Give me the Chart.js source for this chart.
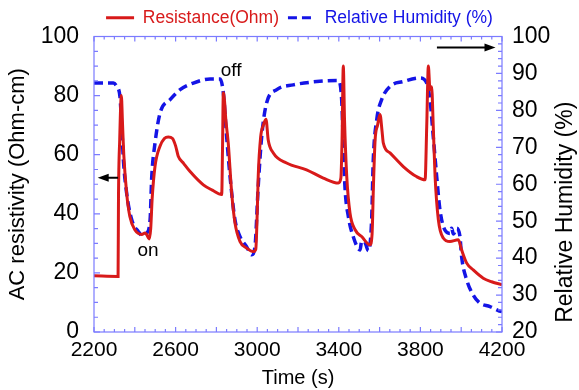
<!DOCTYPE html>
<html>
<head>
<meta charset="utf-8">
<script src="https://cdn.jsdelivr.net/npm/chart.js@4/dist/chart.umd.min.js"></script>
<style>
  html, body { margin: 0; padding: 0; background: #fff; }
  #wrap { width: 579px; height: 390px; }
</style>
</head>
<body>
<div id="wrap"><canvas id="c" width="579" height="390"></canvas></div>
<script>
// ---- data ----
const seriesNames = ["Resistance(Ohm)", "Relative Humidity (%)"];

const resTime = [2200, 2318, 2320, 2326, 2334, 2340, 2346, 2360, 2376, 2401, 2434, 2450, 2458, 2470, 2478, 2485, 2499, 2523, 2545, 2564, 2585, 2600, 2613, 2640, 2671, 2736, 2780, 2826, 2830, 2834, 2840, 2846, 2858, 2875, 2891, 2916, 2948, 2981, 2993, 3000, 3005, 3017, 3030, 3043, 3054, 3079, 3144, 3242, 3324, 3398, 3410, 3416, 3422, 3428, 3439, 3455, 3480, 3512, 3553, 3563, 3570, 3578, 3590, 3602, 3612, 3618, 3651, 3716, 3781, 3823, 3831, 3839, 3847, 3855, 3863, 3872, 3888, 3912, 3945, 3986, 4002, 4027, 4059, 4108, 4149, 4200];
const resValues = [19, 18.8, 45, 65, 80, 70, 60, 47, 39, 34.5, 33, 33.5, 33, 31.5, 35, 45, 56, 62.8, 65.5, 66, 65.5, 63, 59.5, 57, 54.3, 49.8, 48, 46.5, 62, 81, 78, 72, 64, 47, 37, 30.6, 28.4, 27.2, 28, 40, 52.7, 66, 70, 72, 65, 60.6, 57.2, 54.9, 52.1, 50.4, 52, 65, 90, 72, 52.6, 40.2, 34.6, 32.3, 29.5, 33, 50, 65, 70, 73.6, 68, 64, 60.6, 56, 52.6, 51.5, 69.6, 90, 82, 83, 69.6, 52.6, 38, 31.8, 30.6, 31.2, 27.8, 23.3, 21, 18.2, 17, 16];

const rhTime = [2200, 2295, 2311, 2327, 2336, 2344, 2360, 2385, 2417, 2440, 2458, 2475, 2483, 2499, 2524, 2573, 2622, 2687, 2769, 2818, 2834, 2850, 2867, 2891, 2916, 2948, 2973, 2989, 3005, 3022, 3046, 3096, 3177, 3292, 3398, 3414, 3422, 3430, 3447, 3471, 3504, 3512, 3525, 3545, 3561, 3569, 3586, 3610, 3651, 3716, 3798, 3831, 3847, 3863, 3880, 3896, 3920, 3945, 3953, 3962, 3978, 3994, 4002, 4027, 4059, 4092, 4141, 4182, 4200];
const rhValues = [87.4, 87.4, 86.5, 83.8, 75.6, 66.6, 57.6, 50.4, 47.2, 46, 46.7, 50.4, 62, 71.1, 79.3, 82.9, 85.6, 87.4, 88.5, 88.5, 84.7, 73, 62, 50.4, 45.8, 43.1, 40.9, 43.1, 59.4, 72.9, 82, 85.6, 86.9, 87.8, 88.1, 82.9, 71.1, 59.4, 51.2, 45.8, 42.2, 44.5, 44.5, 42, 50.4, 66.6, 77.5, 82.9, 86.5, 87.8, 88.8, 87.4, 82.9, 72.9, 62, 53, 47.6, 46.7, 48.1, 46.5, 48.1, 45.8, 40.4, 34.1, 30, 27.8, 26.9, 25.8, 25.5];

const xTicks = [2200, 2600, 3000, 3400, 3800, 4200];
const leftTicks = [0, 20, 40, 60, 80, 100];
const rightTicks = [20, 30, 40, 50, 60, 70, 80, 90, 100];
const rightTitle = "Relative Humidity (%)";

const annotations = [
  { text: "off", x: 2872, y: 88.5 },
  { text: "on",  x: 2465, y: 27.5 }
];
const arrows = [
  { x1: 2318, x2: 2218, y: 52.2 },
  { x1: 3881, x2: 4168, y: 96.3 }
];

// ---- styling ----
const RED = "#d81a1a";
const BLUE = "#1414e6";
const FRAME = "#7b7bff";
const FONT = "'Liberation Sans', Arial, sans-serif";
Chart.defaults.font.family = FONT;
Chart.defaults.color = "#000";

const toPts = (ts, vs) => ts.map((t, i) => ({ x: t, y: vs[i] }));

const framePlugin = {
  id: "frameTicks",
  afterDatasetsDraw(chart) {
    const { ctx, chartArea: a, scales } = chart;
    ctx.save();
    ctx.strokeStyle = FRAME;
    ctx.lineWidth = 1.2;
    ctx.strokeRect(a.left, a.top, a.right - a.left, a.bottom - a.top);
    ctx.beginPath();
    for (let v = 2200; v <= 4200; v += 50) {
      const px = scales.x.getPixelForValue(v);
      const L = (v % 200 === 0) ? 5 : 3;
      ctx.moveTo(px, a.bottom); ctx.lineTo(px, a.bottom - L);
      ctx.moveTo(px, a.top); ctx.lineTo(px, a.top + L);
    }
    for (let v = 0; v <= 100; v += 5) {
      const py = scales.y.getPixelForValue(v);
      const L = (v % 20 === 0) ? 6 : 4;
      ctx.moveTo(a.left, py); ctx.lineTo(a.left + L, py);
    }
    for (let v = 20; v <= 100; v += 2) {
      const py = scales.y1.getPixelForValue(v);
      const L = (v % 10 === 0) ? 6 : 4;
      ctx.moveTo(a.right, py); ctx.lineTo(a.right - L, py);
    }
    ctx.stroke();

    ctx.fillStyle = "#000";
    ctx.font = "19px " + FONT;
    ctx.textAlign = "center";
    ctx.textBaseline = "middle";
    annotations.forEach(an => {
      ctx.fillText(an.text, scales.x.getPixelForValue(an.x), scales.y.getPixelForValue(an.y));
    });
    ctx.strokeStyle = "#000";
    ctx.lineWidth = 2;
    arrows.forEach(ar => {
      const x1 = scales.x.getPixelForValue(ar.x1);
      const x2 = scales.x.getPixelForValue(ar.x2);
      const y = scales.y.getPixelForValue(ar.y);
      const dir = Math.sign(x2 - x1);
      ctx.beginPath();
      ctx.moveTo(x1, y); ctx.lineTo(x2 - dir * 8, y);
      ctx.stroke();
      ctx.beginPath();
      ctx.moveTo(x2, y);
      ctx.lineTo(x2 - dir * 11, y - 4);
      ctx.lineTo(x2 - dir * 11, y + 4);
      ctx.closePath();
      ctx.fill();
    });

    // right axis title, reading bottom-to-top
    const ry = scales.y1;
    ctx.save();
    ctx.translate(ry.right - 13, (ry.getPixelForValue(20) + ry.getPixelForValue(100)) / 2 + 28);
    ctx.rotate(-Math.PI / 2);
    ctx.font = "23px " + FONT;
    ctx.fillText(rightTitle, 0, 0);
    ctx.restore();
    ctx.restore();
  }
};

new Chart(document.getElementById("c"), {
  type: "line",
  data: {
    datasets: [
      {
        label: seriesNames[0],
        data: toPts(resTime, resValues),
        yAxisID: "y",
        borderColor: RED,
        backgroundColor: RED,
        borderWidth: 3,
        pointRadius: 0,
        cubicInterpolationMode: "monotone"
      },
      {
        label: seriesNames[1],
        data: toPts(rhTime, rhValues),
        yAxisID: "y1",
        borderColor: BLUE,
        backgroundColor: BLUE,
        borderWidth: 3.5,
        borderDash: [9, 5],
        pointRadius: 0,
        cubicInterpolationMode: "monotone"
      }
    ]
  },
  options: {
    responsive: false,
    animation: false,
    devicePixelRatio: 1,
    layout: { padding: { left: 20, right: 0, top: 0, bottom: 0 } },
    plugins: {
      tooltip: { enabled: false },
      legend: {
        display: true,
        position: "top",
        align: "center",
        labels: {
          usePointStyle: true,
          pointStyleWidth: 28,
          padding: 9,
          font: { size: 17.5 },
          generateLabels(chart) {
            return chart.data.datasets.map((ds, i) => ({
              text: ds.label,
              fontColor: ds.borderColor,
              strokeStyle: ds.borderColor,
              fillStyle: ds.borderColor,
              lineWidth: 3,
              lineDash: ds.borderDash || [],
              pointStyle: "line",
              hidden: false,
              datasetIndex: i
            }));
          }
        }
      }
    },
    scales: {
      x: {
        type: "linear",
        min: 2200, max: 4200,
        afterBuildTicks(s) { s.ticks = xTicks.map(v => ({ value: v })); },
        afterFit(s) { s.height = 58; },
        grid: { display: false, drawTicks: false },
        border: { display: false },
        ticks: { font: { size: 21 }, padding: 6, maxRotation: 0, autoSkip: false, callback: v => String(v) },
        title: { display: true, text: "Time (s)", font: { size: 20 }, padding: { top: 0, bottom: 0 } }
      },
      y: {
        type: "linear",
        position: "left",
        min: 0, max: 100,
        afterBuildTicks(s) { s.ticks = leftTicks.map(v => ({ value: v })); },
        afterFit(s) { s.width = 74; },
        grid: { display: false, drawTicks: false },
        border: { display: false },
        ticks: { font: { size: 23 }, padding: 15, callback: v => String(v) },
        title: { display: true, text: "AC resistivity (Ohm-cm)", font: { size: 22 }, padding: { top: -15, bottom: 0 } }
      },
      y1: {
        type: "linear",
        position: "right",
        min: 20, max: 100,
        afterBuildTicks(s) { s.ticks = rightTicks.map(v => ({ value: v })); },
        afterFit(s) { s.width = 77; },
        grid: { display: false, drawTicks: false },
        border: { display: false },
        ticks: { font: { size: 23 }, padding: 10, callback: v => String(v) },
        title: { display: false }
      }
    }
  },
  plugins: [framePlugin]
});
</script>
</body>
</html>
